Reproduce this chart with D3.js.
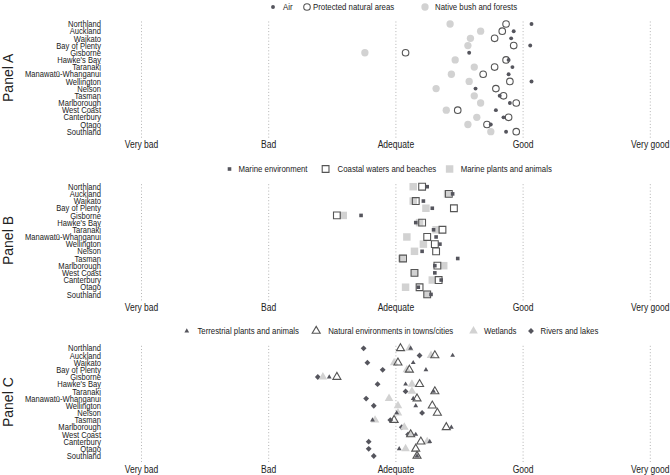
<!DOCTYPE html>
<html>
<head>
<meta charset="UTF-8">
<style>
body { margin: 0; background: #fff; }
svg text { font-family: "Liberation Sans", Arial, sans-serif; fill: #222; }
</style>
</head>
<body>
<script src="https://d3js.org/d3.v7.min.js"></script>
<script>

// data
var regions = ["Northland", "Auckland", "Waikato", "Bay of Plenty", "Gisborne", "Hawke's Bay",
               "Taranaki", "Manawatū-Whanganui", "Wellington", "Nelson", "Tasman",
               "Marlborough", "West Coast", "Canterbury", "Otago", "Southland"]
var tickValues = [1, 2, 3, 4, 5]
var tickLabels = ["Very bad", "Bad", "Adequate", "Good", "Very good"]
var panelNames = ["Panel A", "Panel B", "Panel C"]

// panel A
var airVals       = [4.07, 3.93, 3.91, 4.06, 3.58, 3.89, 3.92, 3.89, 4.07, 3.63, 3.82, 3.90, 3.79, 3.85, 3.75, 3.87]
var protectedVals = [3.87, 3.84, 3.78, 3.93, 3.08, 3.87, 3.78, 3.69, 3.90, 3.79, 3.85, 3.95, 3.49, 3.89, 3.72, 3.95]
var nativeVals    = [3.43, 3.67, 3.59, 3.57, 2.76, 3.47, 3.62, 3.44, 3.58, 3.32, 3.62, 3.67, 3.40, 3.64, 3.57, 3.75]

// panel B
var marineEnvVals    = [3.25, 3.45, 3.22, 3.29, 2.73, 3.16, 3.30, 3.32, 3.35, 3.21, 3.49, 3.31, 3.31, 3.36, 3.18, 3.28]
var coastalVals      = [3.21, 3.42, 3.16, 3.46, 2.54, 3.21, 3.37, 3.25, 3.31, 3.32, 3.06, 3.33, 3.15, 3.34, 3.19, 3.25]
var marinePlantsVals = [3.14, 3.41, 3.14, 3.24, 2.59, 3.19, 3.32, 3.09, 3.22, 3.15, 3.05, 3.38, 3.15, 3.29, 3.08, 3.25]

// panel C
var terrestrialVals = [3.12, 3.45, 3.14, 3.24, 2.48, 3.08, 3.30, 3.14, 3.16, 3.01, 2.82, 3.44, 3.16, 3.27, 3.03, 3.17]
var urbanVals       = [3.04, 3.31, 3.02, 3.11, 2.54, 3.19, 3.31, 3.17, 3.29, 3.33, 2.99, 3.40, 3.12, 3.20, 3.16, 3.17]
var wetlandsVals    = [3.11, 3.28, 2.99, 3.09, 2.43, 3.13, 3.13, 2.95, 3.02, 3.02, 2.84, 3.07, 3.12, 3.25, 3.08, 3.17]
var riversVals      = [2.75, 3.19, 2.78, 2.90, 2.39, 2.86, 3.08, 2.77, 2.83, 3.21, 2.96, 3.05, 3.10, 2.79, 2.79, 2.83]

// styles
var dark = "#55555d"
    light = "#d2d2d2"
    hollow = "#555555"

var svg = d3.select("body").append("svg")
    .attr("width", 670)
    .attr("height", 475)

var xScale = d3.scaleLinear().domain([1, 5]).range([141, 649.8])

var diamond = {draw: function(ctx, size) {
    var r = Math.sqrt(size / 2)
    ctx.moveTo(0, -r); ctx.lineTo(r, 0); ctx.lineTo(0, r); ctx.lineTo(-r, 0); ctx.closePath()
}}

// the original uses a narrow face; measure a reference string and squeeze the text to match
function textWidth(str, size) {
    var t = svg.append("text").style("font-size", size + "px").text(str)
    var w = t.node().getComputedTextLength()
    t.remove()
    return w
}
function squeeze(sel, factor) {
    sel.each(function() {
        var w = this.getComputedTextLength()
        d3.select(this).attr("textLength", w * factor).attr("lengthAdjust", "spacingAndGlyphs")
    })
}
var catSize = 9, legSize = 8.8, axSize = 10
var catFactor = 76 / textWidth("Manawatū-Whanganui", catSize)
    legFactor = 125 / textWidth("Natural environments in towns/cities", legSize)
    axFactor = 36.5 / textWidth("Adequate", axSize)

var panels = [
  {name: panelNames[0], top: 24, legendY: 7, series: [
    {label: "Air", values: airVals, shape: d3.symbolCircle, size: 12, fill: dark, stroke: "none", sx: 273, tx: 283},
    {label: "Protected natural areas", values: protectedVals, shape: d3.symbolCircle, size: 34, fill: "none", stroke: hollow, sx: 307, tx: 313},
    {label: "Native bush and forests", values: nativeVals, shape: d3.symbolCircle, size: 42, fill: light, stroke: "none", sx: 425, tx: 435}
  ]},
  {name: panelNames[1], top: 186.7, legendY: 169, series: [
    {label: "Marine environment", values: marineEnvVals, shape: d3.symbolSquare, size: 13, fill: dark, stroke: "none", sx: 229.5, tx: 238.5},
    {label: "Coastal waters and beaches", values: coastalVals, shape: d3.symbolSquare, size: 46, fill: "none", stroke: hollow, sx: 325.6, tx: 337.6},
    {label: "Marine plants and animals", values: marinePlantsVals, shape: d3.symbolSquare, size: 56, fill: light, stroke: "none", sx: 449.6, tx: 460.7}
  ]},
  {name: panelNames[2], top: 348.3, legendY: 331, series: [
    {label: "Terrestrial plants and animals", values: terrestrialVals, shape: d3.symbolTriangle, size: 10, fill: dark, stroke: "none", sx: 186.8, tx: 197.4},
    {label: "Natural environments in towns/cities", values: urbanVals, shape: d3.symbolTriangle, size: 28, fill: "none", stroke: hollow, sx: 316.2, tx: 328.2},
    {label: "Wetlands", values: wetlandsVals, shape: d3.symbolTriangle, size: 32, fill: light, stroke: "none", sx: 473.5, tx: 484},
    {label: "Rivers and lakes", values: riversVals, shape: diamond, size: 17, fill: dark, stroke: "none", sx: 531, tx: 540.6}
  ]}
]

var rowSpan = 107.7

panels.forEach(function(p) {
    var g = svg.append("g")
    var yScale = d3.scalePoint().domain(regions).range([p.top, p.top + rowSpan])
    var gridTop = p.top - 4.5
        gridBottom = p.top + rowSpan + 6

    // axis with dotted gridlines
    var xAxis = d3.axisBottom(xScale)
        .tickValues(tickValues)
        .tickFormat(function(d, i) { return tickLabels[i] })
        .tickSizeInner(-(gridBottom - gridTop))
        .tickSizeOuter(0)
        .tickPadding(3.6)

    var ax = g.append("g")
        .attr("transform", "translate(0," + gridBottom + ")")
        .call(xAxis)
    ax.select(".domain").remove()
    ax.selectAll(".tick line")
        .attr("stroke", "#b4b4b4")
        .attr("stroke-dasharray", "1,2.2")
    ax.selectAll(".tick text")
        .style("font-family", '"Liberation Sans", Arial, sans-serif')
        .style("font-size", axSize + "px")
        .attr("fill", "#222")
        .call(squeeze, axFactor)

    // category labels
    g.selectAll(".cat").data(regions).enter().append("text")
        .attr("class", "cat")
        .attr("x", 101)
        .attr("y", d => yScale(d))
        .attr("dy", "0.35em")
        .attr("text-anchor", "end")
        .style("font-size", catSize + "px")
        .text(d => d)
        .call(squeeze, catFactor)

    // panel title
    g.append("text")
        .attr("transform", "translate(13," + (p.top + rowSpan / 2) + ") rotate(-90)")
        .attr("text-anchor", "middle")
        .style("font-size", "14px")
        .text(p.name)

    // marks, last legend entry drawn first
    p.series.slice().reverse().forEach(function(s) {
        var sym = d3.symbol().type(s.shape).size(s.size)
        g.append("g").selectAll("path").data(s.values).enter().append("path")
            .attr("d", sym)
            .attr("transform", (d, i) => "translate(" + xScale(d) + "," + yScale(regions[i]) + ")")
            .attr("fill", s.fill)
            .attr("stroke", s.stroke)
            .attr("stroke-width", 1.1)
    })

    // legend
    p.series.forEach(function(s) {
        var sym = d3.symbol().type(s.shape).size(s.size)
        g.append("path")
            .attr("d", sym)
            .attr("transform", "translate(" + s.sx + "," + p.legendY + ")")
            .attr("fill", s.fill)
            .attr("stroke", s.stroke)
            .attr("stroke-width", 1.1)
        g.append("text")
            .attr("x", s.tx)
            .attr("y", p.legendY)
            .attr("dy", "0.35em")
            .style("font-size", legSize + "px")
            .text(s.label)
            .call(squeeze, legFactor)
    })
})

</script>
</body>
</html>
